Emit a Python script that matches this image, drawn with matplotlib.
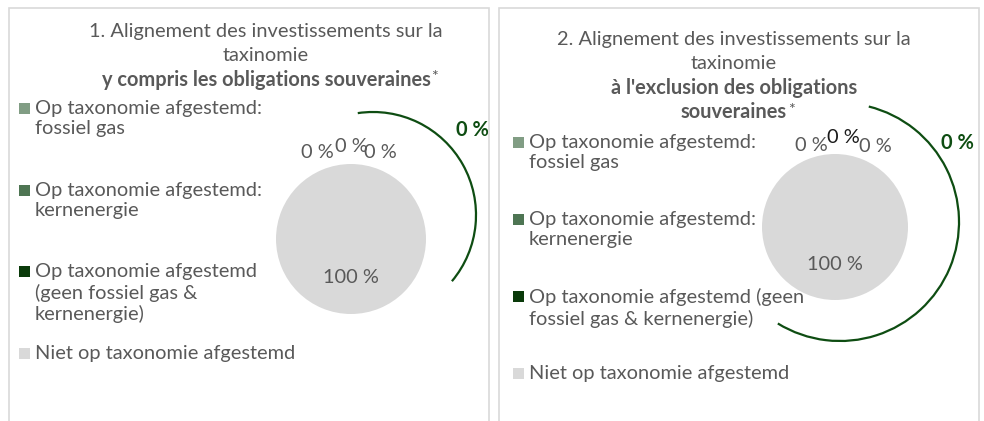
import matplotlib
matplotlib.use("Agg")
import matplotlib.pyplot as plt
from matplotlib.patches import Rectangle, Arc

plt.rcParams['font.family'] = ['Lato', 'DejaVu Sans']

# data
categories = ['Op taxonomie afgestemd:\nfossiel gas',
              'Op taxonomie afgestemd:\nkernenergie',
              'Op taxonomie afgestemd\n(geen fossiel gas &\nkernenergie)',
              'Niet op taxonomie afgestemd']
categories_right = ['Op taxonomie afgestemd:\nfossiel gas',
                    'Op taxonomie afgestemd:\nkernenergie',
                    'Op taxonomie afgestemd (geen\nfossiel gas & kernenergie)',
                    'Niet op taxonomie afgestemd']
values_incl = [0, 0, 0, 100]
values_excl = [0, 0, 0, 100]
aligned_incl = 0
aligned_excl = 0
colors = ['#819d84', '#4e7553', '#0a3a0a', '#d9d9d9']

W, H = 984, 421
GREY = '#595959'
GREEN = '#0e4d12'
FS = 14.4

fig = plt.figure(figsize=(W / 100, H / 100), dpi=100)


def fx(x):
    return x / W


def fy(y):
    return 1 - y / H


# panel borders
for x0, x1 in [(9, 489), (499, 979)]:
    fig.add_artist(Rectangle((fx(x0), fy(440)), (x1 - x0) / W, 432 / H,
                             transform=fig.transFigure, fill=False,
                             ec='#d9d9d9', lw=1.2))


def panel(values, labels, aligned, cx, cy, r, title_lines, bold_lines, tx, ty,
          leg_x, leg_y, lab_pos, lab_cols, green_pos, arc):
    # title
    y = ty
    for line in title_lines:
        fig.text(fx(tx), fy(y), line, ha='center', va='center', fontsize=FS, color=GREY)
        y += 24.5
    for i, line in enumerate(bold_lines):
        t = fig.text(fx(tx), fy(y), line, ha='center', va='center', fontsize=FS,
                     color=GREY, fontweight='bold')
        if i == len(bold_lines) - 1:
            fig.add_artist(plt.Annotation('*', xy=(1, 1), xycoords=t, xytext=(0.5, 0),
                                          textcoords='offset points', va='top',
                                          ha='left', fontsize=FS * 0.8, color=GREY))
        y += 24.5

    # legend
    for lab, col, ly in zip(labels, colors, leg_y):
        fig.add_artist(Rectangle((fx(leg_x - 16), fy(ly + 5.5)), 11 / W, 11 / H,
                                 transform=fig.transFigure, fc=col, ec='none'))
        fig.text(fx(leg_x), fy(ly - 8), lab, ha='left', va='top', fontsize=FS,
                 color=GREY, linespacing=1.24)

    # pie
    L = 2.3
    half = L * r
    ax = fig.add_axes([fx(cx - half), fy(cy + half), 2 * half / W, 2 * half / H])
    ax.pie(values, colors=colors, startangle=90, counterclock=False, radius=1,
           wedgeprops=dict(linewidth=0))
    ax.set_xlim(-L, L)
    ax.set_ylim(-L, L)
    ax.axis('off')
    for v, (px, py), c in zip(values, lab_pos, lab_cols):
        ax.text(px, py, f'{v:.0f} %', ha='center', va='center', fontsize=FS, color=c)

    acx, acy, ar, t1, t2 = arc
    ax.add_patch(Arc(((acx - cx) / r, (cy - acy) / r), 2 * ar / r, 2 * ar / r,
                     theta1=t1, theta2=t2, color=GREEN, lw=1.6, clip_on=False))
    ax.text((green_pos[0] - cx) / r, (cy - green_pos[1]) / r, f'{aligned:.0f} %',
            ha='center', va='center', fontsize=FS, color=GREEN, fontweight='bold')


panel(values_incl, categories, aligned_incl, 351, 239, 75,
      ['1. Alignement des investissements sur la', 'taxinomie'],
      ['y compris les obligations souveraines'], 266, 31,
      35, [108, 190, 271, 353],
      [(-0.45, 1.16), (0.01, 1.23), (0.39, 1.15), (0, -0.51)],
      [GREY, GREY, GREY, GREY], (472, 130),
      (373, 215, 103, -40, 98.5))

panel(values_excl, categories_right, aligned_excl, 835, 227, 73,
      ['2. Alignement des investissements sur la', 'taxinomie'],
      ['à l\'exclusion des obligations', 'souveraines'], 734, 39,
      529, [142, 219, 296, 373],
      [(-0.32, 1.12), (0.11, 1.22), (0.55, 1.10), (0, -0.52)],
      [GREY, '#1a1a1a', GREY, GREY], (957, 143),
      (840, 222, 119, -121.5, 76))

fig.savefig('out.png', dpi=100)
